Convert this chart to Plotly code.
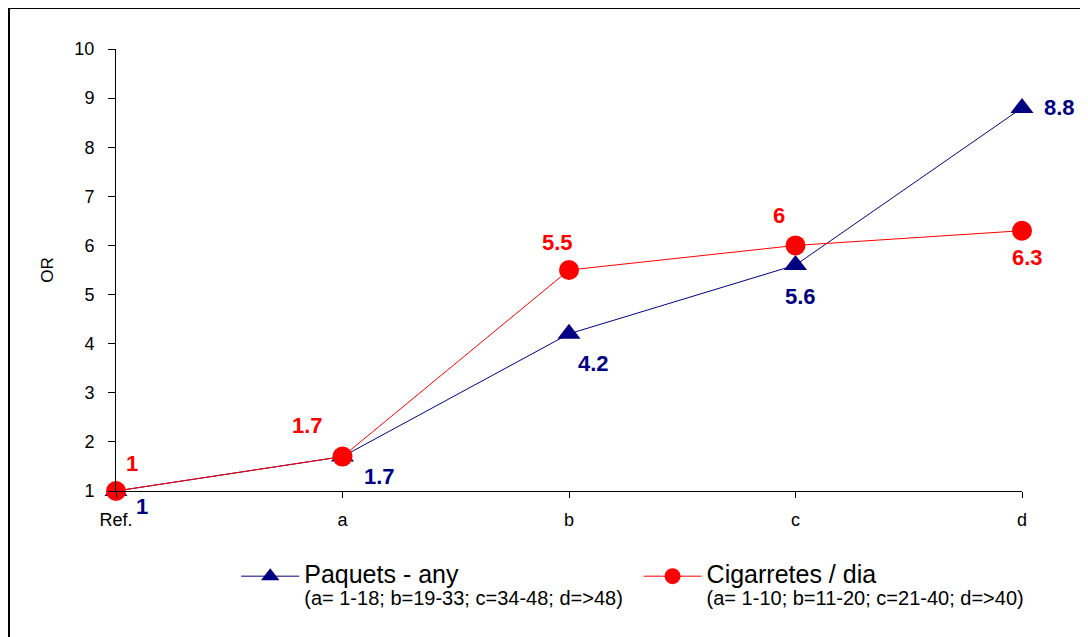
import plotly.graph_objects as go

categories = ["Ref.", "a", "b", "c", "d"]
paquets = [1, 1.7, 4.2, 5.6, 8.8]
cigarretes = [1, 1.7, 5.5, 6, 6.3]
y_ticks = [1, 2, 3, 4, 5, 6, 7, 8, 9, 10]

name_paq = ("<span style='font-size:25px'>Paquets - any</span><br>"
            "<span style='font-size:20px'>(a= 1-18; b=19-33; c=34-48; d=>48)</span>")
name_cig = ("<span style='font-size:25px'>Cigarretes / dia</span><br>"
            "<span style='font-size:20px'>(a= 1-10; b=11-20; c=21-40; d=>40)</span>")

NAVY = "#000080"
RED = "#FF0000"
FONT = "Liberation Sans, Arial, sans-serif"

# label pixel offsets (styling only)
off_paq = [(26, -15), (37, -20), (24, -30), (5, -31), (37, 0)]
off_cig = [(16, 28), (-35, 31), (-12, 28), (-17, 30), (5, -27)]

xs = list(range(len(categories)))

fig = go.Figure()
fig.add_trace(go.Scatter(
    x=xs, y=paquets, mode="lines+markers", name=name_paq,
    line=dict(color=NAVY, width=1),
    marker=dict(symbol="triangle-up", size=20, color=NAVY),
    cliponaxis=False, legend="legend",
))
fig.add_trace(go.Scatter(
    x=xs, y=cigarretes, mode="lines+markers", name=name_cig,
    line=dict(color=RED, width=1),
    marker=dict(symbol="circle", size=20, color=RED),
    cliponaxis=False, legend="legend2",
))

for vals, offs, col in [(paquets, off_paq, NAVY), (cigarretes, off_cig, RED)]:
    for xi, v, (dx, dy) in zip(xs, vals, offs):
        fig.add_annotation(
            x=xi, y=v, xref="x", yref="y", text=f"{v:g}", showarrow=False,
            xshift=dx, yshift=dy,
            font=dict(family=FONT, size=22, color=col, weight="bold"),
        )

# outer frame
fig.add_shape(type="rect", xref="paper", yref="paper",
              x0=-0.1181, x1=1.3, y0=-0.6, y1=1.0928,
              line=dict(color="black", width=2), layer="below")

leg_common = dict(xanchor="left", yanchor="top", valign="top",
                  bgcolor="rgba(0,0,0,0)", itemwidth=58,
                  font=dict(family=FONT, size=17, color="black"))

fig.update_layout(
    width=1080, height=629,
    margin=dict(l=108, r=66, t=41, b=146),
    paper_bgcolor="white", plot_bgcolor="white",
    font=dict(family=FONT, size=18, color="black"),
    showlegend=True,
    legend=dict(x=0.1327, y=-0.153, **leg_common),
    legend2=dict(x=0.5768, y=-0.153, **leg_common),
    xaxis=dict(
        range=[0, 4], tickmode="array", tickvals=xs, ticktext=categories,
        showgrid=False, zeroline=False, showline=True, linecolor="black",
        linewidth=1, ticks="outside", ticklen=6, tickcolor="black",
        tickfont=dict(size=18), ticklabelstandoff=6,
    ),
    yaxis=dict(
        range=[1, 10], tickmode="array", tickvals=y_ticks,
        showgrid=False, zeroline=False, showline=True, linecolor="black",
        linewidth=1, ticks="outside", ticklen=7, tickcolor="black",
        tickfont=dict(size=18), ticklabelstandoff=10,
        title=dict(text="OR", font=dict(size=17), standoff=16),
    ),
)

fig.write_html("out.html")
